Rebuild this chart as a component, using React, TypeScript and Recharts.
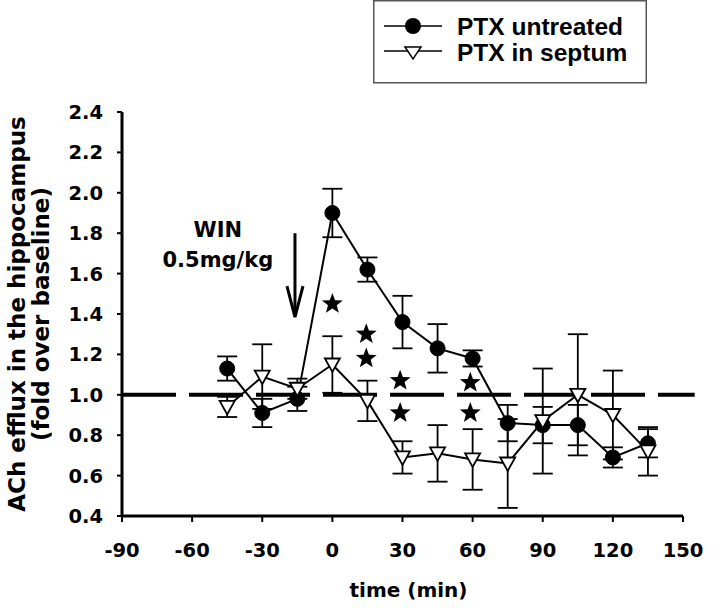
import React from 'react';
import {
  ComposedChart,
  Line,
  Scatter,
  XAxis,
  YAxis,
  ErrorBar,
  ReferenceLine,
  ReferenceDot
} from 'recharts';

// time points (min) relative to WIN injection
const times = [-45, -30, -15, 0, 15, 30, 45, 60, 75, 90, 105, 120, 135];
const untreated = [1.13, 0.91, 0.98, 1.9, 1.62, 1.36, 1.23, 1.18, 0.86, 0.85, 0.85, 0.69, 0.76];
const untreatedErr = [0.06, 0.07, 0.06, 0.12, 0.06, 0.13, 0.12, 0.04, 0.09, 0.09, 0.1, 0.05, 0.07];
const septum = [0.94, 1.09, 1.03, 1.15, 0.97, 0.69, 0.71, 0.68, 0.66, 0.87, 1.0, 0.9, 0.72];
const septumErr = [0.05, 0.16, 0.05, 0.14, 0.1, 0.08, 0.14, 0.15, 0.22, 0.26, 0.3, 0.22, 0.12];

// significance stars
const starTimes = [0, 14.5, 14.5, 29, 29, 59, 59];
const starValues = [1.45, 1.3, 1.18, 1.07, 0.91, 1.06, 0.91];

const xTicks = [-90, -60, -30, 0, 30, 60, 90, 120, 150];
const yTicks = [0.4, 0.6, 0.8, 1.0, 1.2, 1.4, 1.6, 1.8, 2.0, 2.2, 2.4];

const injectionTime = -16;

const data = times.map((t, i) => ({
  t,
  untreated: untreated[i],
  untreatedErr: untreatedErr[i],
  septum: septum[i],
  septumErr: septumErr[i]
}));

const starData = starTimes.map((t, i) => ({ t, y: starValues[i] }));

const FONT = '"DejaVu Sans", sans-serif';
const LEGEND_FONT = '"Liberation Sans", Arial, sans-serif';

const starPath = (cx: number, cy: number, ro: number, ri: number) => {
  let d = '';
  for (let k = 0; k < 10; k++) {
    const r = k % 2 === 0 ? ro : ri;
    const a = -Math.PI / 2 + (k * Math.PI) / 5;
    d += (k === 0 ? 'M' : 'L') + (cx + r * Math.cos(a)).toFixed(2) + ',' + (cy + r * Math.sin(a)).toFixed(2);
  }
  return d + 'Z';
};

const CircleDot = (p: any) => (
  <circle key={`c-${p.index}`} cx={p.cx} cy={p.cy} r={7.5} fill="#000" stroke="#000" />
);

const TriangleDot = (p: any) => (
  <path
    key={`t-${p.index}`}
    d={`M${p.cx - 7.5},${p.cy - 6} L${p.cx + 7.5},${p.cy - 6} L${p.cx},${p.cy + 7.5} Z`}
    fill="#fff"
    stroke="#000"
    strokeWidth={1.8}
  />
);

const StarShape = (p: any) => <path d={starPath(p.cx, p.cy, 11, 4.6)} fill="#000" />;

const YLabel = (props: any) => {
  const vb = props.viewBox || {};
  const cy = vb.y + vb.height / 2;
  return (
    <g fontFamily={FONT} fontWeight="bold" fontSize={23} fill="#000">
      <text x={25} y={cy} transform={`rotate(-90, 25, ${cy})`} textAnchor="middle">
        ACh efflux in the hippocampus
      </text>
      <text x={49} y={cy} transform={`rotate(-90, 49, ${cy})`} textAnchor="middle">
        (fold over baseline)
      </text>
    </g>
  );
};

const LegendBox = () => (
  <svg
    width={274}
    height={84}
    style={{ position: 'absolute', left: 373, top: 0 }}
  >
    <rect x={0.75} y={0.75} width={272.5} height={82} fill="#fff" stroke="#555" strokeWidth={1.5} />
    <line x1={11} y1={26} x2={69} y2={26} stroke="#000" strokeWidth={1.5} />
    <circle cx={40} cy={26} r={8} fill="#000" />
    <line x1={11} y1={51} x2={69} y2={51} stroke="#000" strokeWidth={1.5} />
    <path d="M32,47 L48,47 L40,59 Z" fill="#fff" stroke="#000" strokeWidth={1.5} />
    <g fontFamily={LEGEND_FONT} fontWeight="bold" fontSize={24.5} fill="#000">
      <text x={84} y={35}>PTX untreated</text>
      <text x={84} y={61}>PTX in septum</text>
    </g>
  </svg>
);

const App: React.FC = () => {
  return (
    <div style={{ position: 'absolute', left: 0, top: 0, width: 720, height: 608, background: '#fff' }}>
      <ComposedChart
        width={720}
        height={608}
        data={data}
        margin={{ top: 112, right: 37, bottom: 0, left: 0 }}
      >
        <XAxis
          dataKey="t"
          type="number"
          domain={[-90, 150]}
          ticks={xTicks}
          interval={0}
          height={92}
          axisLine={{ stroke: '#000', strokeWidth: 3 }}
          tickLine={{ stroke: '#000', strokeWidth: 2 }}
          tickSize={6}
          tickMargin={21}
          tick={{ fill: '#000', fontSize: 19.5, fontWeight: 'bold', fontFamily: FONT }}
          label={{
            value: 'time (min)',
            position: 'insideBottom',
            offset: 11,
            dx: 6,
            fill: '#000',
            fontSize: 20,
            fontWeight: 'bold',
            fontFamily: FONT
          }}
        />
        <YAxis
          type="number"
          domain={[0.4, 2.4]}
          ticks={yTicks}
          interval={0}
          width={122}
          axisLine={{ stroke: '#000', strokeWidth: 3 }}
          tickLine={{ stroke: '#000', strokeWidth: 2 }}
          tickSize={5}
          tickMargin={14}
          tickFormatter={(v: number) => v.toFixed(1)}
          tick={{ fill: '#000', fontSize: 19.5, fontWeight: 'bold', fontFamily: FONT }}
          label={<YLabel />}
        />
        <ReferenceLine
          segment={[{ x: -90, y: 1 }, { x: 155, y: 1 }]}
          ifOverflow="visible"
          stroke="#000"
          strokeWidth={4}
          strokeDasharray="54 13"
        />
        <ReferenceLine
          segment={[{ x: injectionTime, y: 1.8 }, { x: injectionTime, y: 1.395 }]}
          stroke="#000"
          strokeWidth={3}
        />
        <ReferenceDot
          x={injectionTime}
          y={1.385}
          r={0}
          shape={(p: any) => (
            <path
              d={`M${p.cx - 8},${p.cy - 31} L${p.cx},${p.cy} L${p.cx + 8},${p.cy - 31}`}
              fill="none"
              stroke="#000"
              strokeWidth={3}
            />
          )}
        />
        <ReferenceDot
          x={-49}
          y={1.782}
          r={0}
          shape={(p: any) => (
            <text x={p.cx} y={p.cy} textAnchor="middle" fontFamily={FONT} fontWeight="bold" fontSize={21} fill="#000">
              WIN
            </text>
          )}
        />
        <ReferenceDot
          x={-49}
          y={1.634}
          r={0}
          shape={(p: any) => (
            <text x={p.cx} y={p.cy} textAnchor="middle" fontFamily={FONT} fontWeight="bold" fontSize={21} fill="#000">
              0.5mg/kg
            </text>
          )}
        />
        <Line
          dataKey="untreated"
          stroke="#000"
          strokeWidth={2}
          dot={CircleDot}
          activeDot={false}
          isAnimationActive={false}
        >
          <ErrorBar dataKey="untreatedErr" direction="y" width={10} stroke="#000" strokeWidth={1.8} />
        </Line>
        <Line
          dataKey="septum"
          stroke="#000"
          strokeWidth={2}
          dot={TriangleDot}
          activeDot={false}
          isAnimationActive={false}
        >
          <ErrorBar dataKey="septumErr" direction="y" width={10} stroke="#000" strokeWidth={1.8} />
        </Line>
        <Scatter data={starData} dataKey="y" shape={StarShape} isAnimationActive={false} />
      </ComposedChart>
      <LegendBox />
    </div>
  );
};

export default App;
